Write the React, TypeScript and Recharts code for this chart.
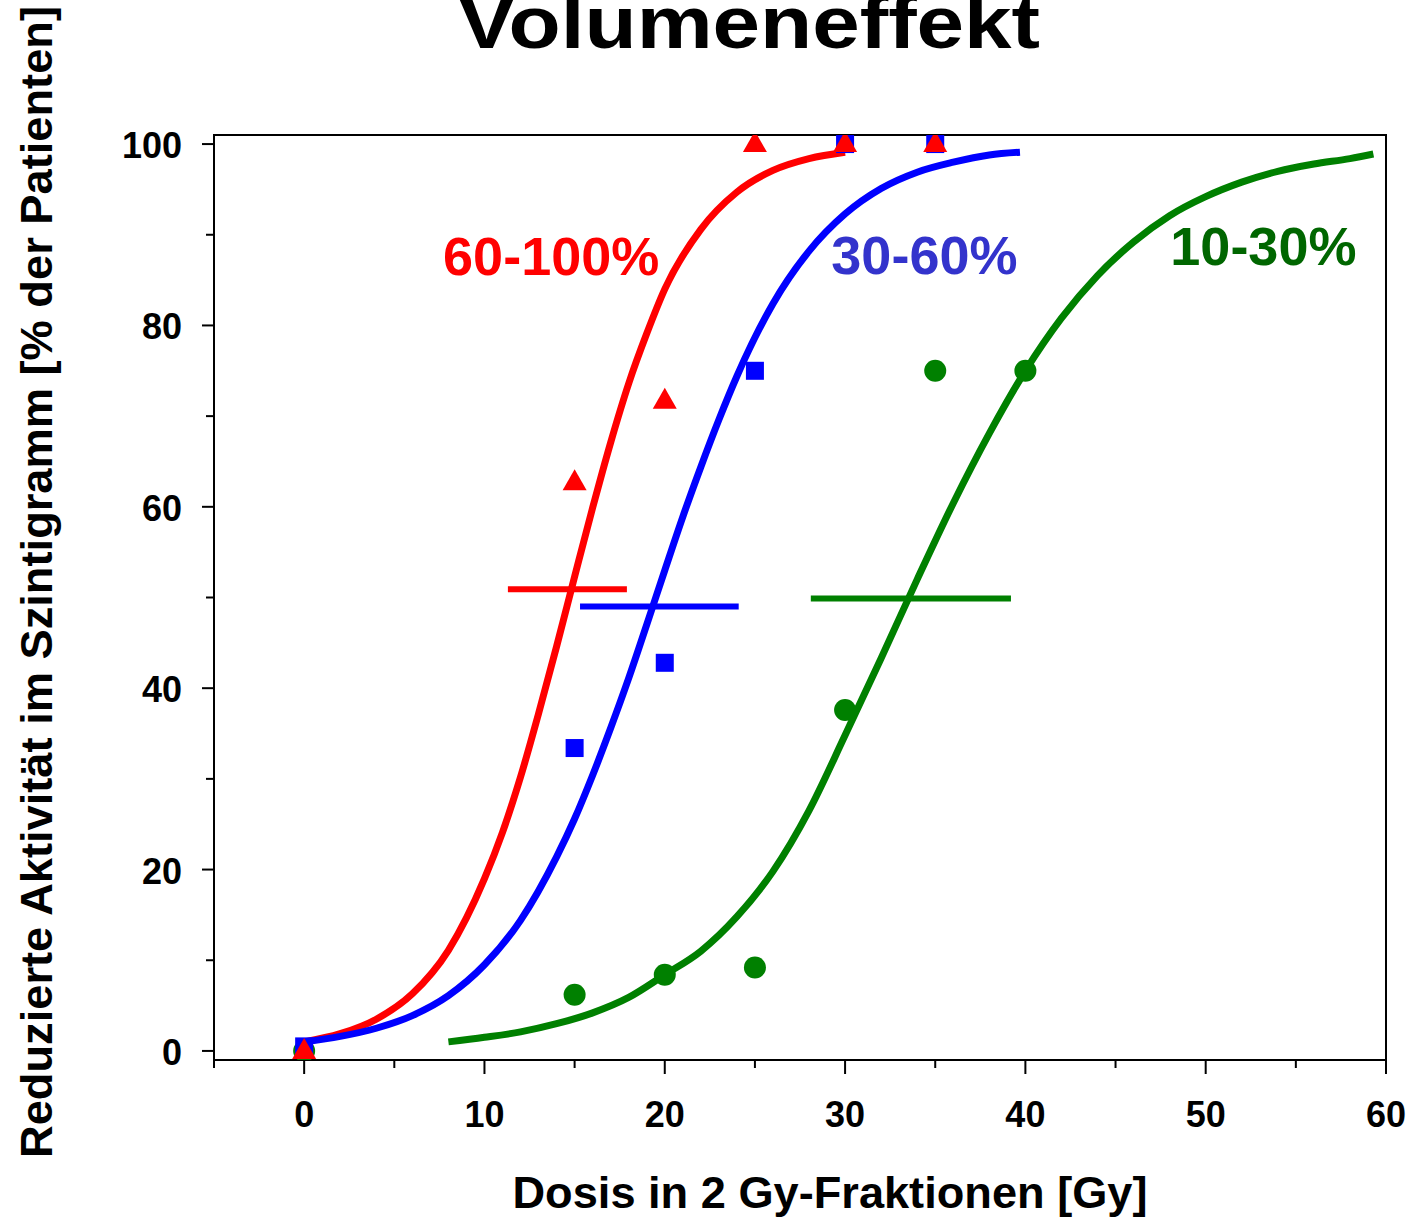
import {
  ComposedChart,
  Line,
  Scatter,
  XAxis,
  YAxis,
  ReferenceArea,
  ReferenceLine,
  ReferenceDot,
  Customized,
} from "recharts";

const FONT = '"Liberation Sans", Arial, Helvetica, sans-serif';

// fitted dose-response curves
const redDose = [0, 2, 4, 6, 8, 10, 11, 12, 13, 14, 15, 16, 17, 18, 19, 20, 22, 24, 26, 28, 30];
const redFit = [1.0, 1.9, 3.5, 6.3, 11.1, 19.0, 24.1, 30.2, 37.2, 44.6, 52.3, 59.9, 67.1, 73.6, 79.1, 84.0, 90.6, 94.7, 97.1, 98.4, 99.1];

const blueDose = [0, 2, 4, 6, 8, 10, 12, 14, 15, 16, 17, 18, 19, 20, 21, 22, 23, 24, 26, 28, 30, 32, 34, 36, 38, 39.7];
const blueFit = [1.0, 1.6, 2.5, 3.9, 6.1, 9.5, 14.4, 21.4, 25.6, 30.4, 35.6, 41.1, 47.0, 53.0, 58.9, 64.4, 69.6, 74.4, 82.4, 88.2, 92.3, 95.1, 96.9, 98.0, 98.8, 99.1];

const greenDose = [8, 10, 12, 14, 16, 18, 20, 22, 24, 26, 28, 30, 32, 34, 36, 38, 40, 42, 44, 46, 48, 50, 52, 54, 56, 58, 59.3];
const greenFit = [1.0, 1.5, 2.1, 3.0, 4.2, 5.9, 8.4, 11.0, 14.8, 19.8, 26.5, 34.8, 43.3, 52.0, 60.4, 68.1, 75.0, 80.8, 85.5, 89.2, 92.1, 94.2, 95.8, 97.0, 97.8, 98.4, 98.9];

// observed points
const redObsDose = [0, 15, 20, 25, 30, 35];
const redObs = [0, 62.7, 71.7, 100, 100, 100];
const blueObsDose = [0, 15, 20, 25, 30, 35];
const blueObs = [0.5, 33.4, 42.8, 75, 100, 100];
const greenObsDose = [0, 15, 20, 25, 30, 35, 40];
const greenObs = [0, 6.2, 8.4, 9.2, 37.6, 75, 75];

// ED50 bars: [from, to, level]
const redBar = [11.3, 17.9, 50.9];
const blueBar = [15.3, 24.1, 49.0];
const greenBar = [28.1, 39.2, 49.9];

const groupLabels = ["60-100%", "30-60%", "10-30%"];
const labelPos = [
  [13.7, 87.7],
  [34.4, 87.8],
  [53.2, 88.8],
];
const labelColors = ["#ff0000", "#3333cc", "#006600"];

const xTicks = [-5, 0, 5, 10, 15, 20, 25, 30, 35, 40, 45, 50, 55, 60];
const yTicks = [0, 10, 20, 30, 40, 50, 60, 70, 80, 90, 100];

const zip = (xs: number[], ys: number[]) => xs.map((x, i) => ({ x, y: ys[i] }));

const XTick = (p: any) => {
  const v = p.payload.value;
  const major = v % 10 === 0;
  return (
    <g>
      <line x1={p.x} y1={p.y} x2={p.x} y2={p.y + (major ? 14 : 8)} stroke="#000" strokeWidth={2} />
      {major && v >= 0 && (
        <text x={p.x} y={p.y + 67} textAnchor="middle" fontSize={36} fontWeight="bold" fontFamily={FONT} fill="#000">
          {v}
        </text>
      )}
    </g>
  );
};

const YTick = (p: any) => {
  const v = p.payload.value;
  const major = v % 20 === 0;
  return (
    <g>
      <line x1={p.x - (major ? 12 : 8)} y1={p.y} x2={p.x} y2={p.y} stroke="#000" strokeWidth={2} />
      {major && (
        <text x={p.x - 32} y={p.y + 14} textAnchor="end" fontSize={36} fontWeight="bold" fontFamily={FONT} fill="#000">
          {v}
        </text>
      )}
    </g>
  );
};

const Triangle = (p: any) => (
  <polygon
    points={`${p.cx - 12},${p.cy + 8} ${p.cx + 12},${p.cy + 8} ${p.cx},${p.cy - 13}`}
    fill="#ff0000"
  />
);
const Square = (p: any) => <rect x={p.cx - 9} y={p.cy - 9} width={18} height={18} fill="#0000ff" />;
const Circle = (p: any) => <circle cx={p.cx} cy={p.cy} r={11} fill="#008000" />;

const Texts = () => (
  <g fontFamily={FONT} fontWeight="bold" fill="#000">
    <text x={749} y={48} textAnchor="middle" fontSize={74} textLength={582} lengthAdjust="spacingAndGlyphs">
      Volumeneffekt
    </text>
    <text x={830} y={1208} textAnchor="middle" fontSize={44} textLength={635} lengthAdjust="spacingAndGlyphs">
      Dosis in 2 Gy-Fraktionen [Gy]
    </text>
    <text
      x={52}
      y={582}
      textAnchor="middle"
      fontSize={44}
      textLength={1152}
      lengthAdjust="spacingAndGlyphs"
      transform="rotate(-90, 52, 582)"
    >
      Reduzierte Aktivität im Szintigramm [% der Patienten]
    </text>
  </g>
);

export default function App() {
  return (
    <div style={{ position: "absolute", left: 0, top: 0 }}>
      <ComposedChart
        width={1413}
        height={1222}
        margin={{ top: 135, right: 27, bottom: 82, left: 114 }}
      >
        <XAxis
          type="number"
          dataKey="x"
          domain={[-5, 60]}
          ticks={xTicks}
          interval={0}
          allowDataOverflow
          height={80}
          tickSize={0}
          tickMargin={0}
          tickLine={false}
          axisLine={{ stroke: "#000", strokeWidth: 2 }}
          tick={XTick}
        />
        <YAxis
          type="number"
          dataKey="y"
          domain={[-1, 101]}
          ticks={yTicks}
          interval={0}
          allowDataOverflow
          width={100}
          tickSize={0}
          tickMargin={0}
          tickLine={false}
          axisLine={{ stroke: "#000", strokeWidth: 2 }}
          tick={YTick}
        />
        <ReferenceArea x1={-5} x2={60} y1={-1} y2={101} fill="none" stroke="#000" strokeWidth={2} ifOverflow="visible" />

        <Line data={zip(greenDose, greenFit)} dataKey="y" type="monotone" stroke="#008000" strokeWidth={7} dot={false} isAnimationActive={false} />
        <Line data={zip(redDose, redFit)} dataKey="y" type="monotone" stroke="#ff0000" strokeWidth={7} dot={false} isAnimationActive={false} />
        <Line data={zip(blueDose, blueFit)} dataKey="y" type="monotone" stroke="#0000ff" strokeWidth={7} dot={false} isAnimationActive={false} />

        <ReferenceLine segment={[{ x: redBar[0], y: redBar[2] }, { x: redBar[1], y: redBar[2] }]} stroke="#ff0000" strokeWidth={6} />
        <ReferenceLine segment={[{ x: blueBar[0], y: blueBar[2] }, { x: blueBar[1], y: blueBar[2] }]} stroke="#0000ff" strokeWidth={6} />
        <ReferenceLine segment={[{ x: greenBar[0], y: greenBar[2] }, { x: greenBar[1], y: greenBar[2] }]} stroke="#008000" strokeWidth={6} />

        <Scatter data={zip(greenObsDose, greenObs)} dataKey="y" shape={Circle} isAnimationActive={false} />
        <Scatter data={zip(blueObsDose, blueObs)} dataKey="y" shape={Square} isAnimationActive={false} />
        <Scatter data={zip(redObsDose, redObs)} dataKey="y" shape={Triangle} isAnimationActive={false} />

        {groupLabels.map((t, i) => (
          <ReferenceDot
            key={t}
            x={labelPos[i][0]}
            y={labelPos[i][1]}
            r={0}
            fill="none"
            stroke="none"
            label={{
              value: t,
              position: "center",
              fill: labelColors[i],
              fontSize: 54,
              fontWeight: "bold",
              fontFamily: FONT,
            }}
          />
        ))}
        <Customized component={Texts} />
      </ComposedChart>
    </div>
  );
}
